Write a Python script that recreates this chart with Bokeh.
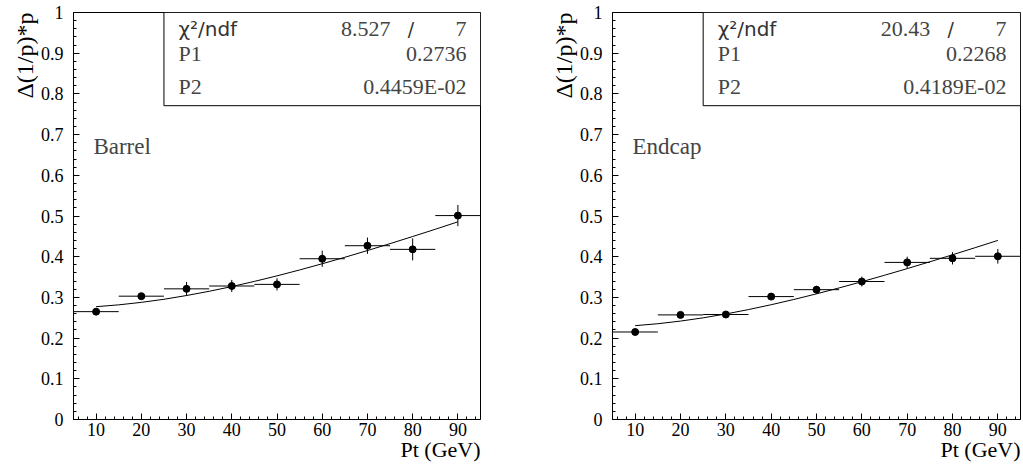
from bokeh.plotting import figure
from bokeh.layouts import row
from bokeh.models import (ColumnDataSource, FixedTicker, CustomJSTickFormatter,
                          Label, BoxAnnotation, Range1d, Title)
from bokeh.embed import file_html
from bokeh.resources import INLINE

# ---------------- data ----------------
pt = [10, 20, 30, 40, 50, 60, 70, 80, 90]
pt_half_bin = [5, 5, 5, 5, 5, 5, 5, 5, 5]

barrel_y = [0.265, 0.303, 0.321, 0.328, 0.332, 0.395, 0.427, 0.418, 0.501]
barrel_err = [0.007, 0.007, 0.017, 0.015, 0.015, 0.020, 0.020, 0.027, 0.026]

endcap_y = [0.215, 0.257, 0.258, 0.302, 0.319, 0.339, 0.386, 0.396, 0.401]
endcap_err = [0.006, 0.006, 0.006, 0.007, 0.009, 0.012, 0.014, 0.015, 0.018]

fit_x = [10, 15, 20, 25, 30, 35, 40, 45, 50, 55, 60, 65, 70, 75, 80, 85, 90]
barrel_fit = [0.2772, 0.2817, 0.2878, 0.2954, 0.3046, 0.3150, 0.3266, 0.3393,
              0.3529, 0.3674, 0.3827, 0.3986, 0.4151, 0.4321, 0.4496, 0.4674, 0.4857]
endcap_fit = [0.2306, 0.2353, 0.2418, 0.2498, 0.2593, 0.2701, 0.2820, 0.2949,
              0.3087, 0.3233, 0.3385, 0.3544, 0.3707, 0.3875, 0.4047, 0.4222, 0.4400]

barrel_stats = ["8.527", "7", "0.2736", "0.4459E-02"]
endcap_stats = ["20.43", "7", "0.2268", "0.4189E-02"]

x_title = "Pt (GeV)"
y_title = "Δ(1/p)*p"

x_major = [10, 20, 30, 40, 50, 60, 70, 80, 90]
x_minor = [v for v in range(6, 95, 2) if v % 10 != 0]
y_major = [i / 10 for i in range(11)]
y_minor = [i / 50 for i in range(51) if i % 5 != 0]

SERIF = "Liberation Serif"
SANS = "DejaVu Sans"


def make_panel(name, yv, ye, fit, stats, width, left_border, right_border):
    p = figure(width=width, height=464, output_backend="svg", toolbar_location=None,
               x_range=Range1d(5, 95), y_range=Range1d(0, 1),
               min_border_left=left_border, min_border_right=right_border,
               min_border_top=12, min_border_bottom=45)
    p.xgrid.visible = False
    p.ygrid.visible = False
    p.outline_line_color = "black"
    p.outline_line_width = 1
    p.background_fill_color = "white"
    p.border_fill_color = "white"

    for ax in (p.xaxis, p.yaxis):
        ax.axis_line_color = "black"
        ax.major_tick_line_color = "black"
        ax.minor_tick_line_color = "black"
        ax.major_tick_in = 6
        ax.major_tick_out = 0
        ax.minor_tick_in = 3
        ax.minor_tick_out = 0
        ax.major_label_text_font = SERIF
        ax.major_label_text_font_size = "18px"
        ax.major_label_text_color = "black"

    p.xaxis.ticker = FixedTicker(ticks=x_major, minor_ticks=x_minor)
    p.yaxis.ticker = FixedTicker(ticks=y_major, minor_ticks=y_minor)
    p.yaxis.formatter = CustomJSTickFormatter(code="return String(Math.round(tick*10)/10);")
    p.xaxis.major_label_standoff = 3
    p.yaxis.major_label_standoff = 10

    # axis titles, ROOT style: flush with the right / top end of the axis
    p.add_layout(Title(text=x_title, align="right", text_font=SERIF,
                       text_font_size="22px", text_font_style="normal",
                       text_color="black", standoff=-8, offset=0), "below")
    p.add_layout(Title(text=y_title, align="right", text_font=SERIF,
                       text_font_size="24px", text_font_style="normal",
                       text_color="black", standoff=0, offset=0), "left")

    src = ColumnDataSource(dict(
        x=pt, y=yv,
        x0=[a - b for a, b in zip(pt, pt_half_bin)],
        x1=[a + b for a, b in zip(pt, pt_half_bin)],
        y0=[a - b for a, b in zip(yv, ye)],
        y1=[a + b for a, b in zip(yv, ye)],
    ))
    p.segment(x0="x0", x1="x1", y0="y", y1="y", source=src, line_color="black", line_width=1)
    p.segment(x0="x", x1="x", y0="y0", y1="y1", source=src, line_color="black", line_width=1)
    p.line(fit_x, fit, line_color="black", line_width=1)
    p.scatter(x="x", y="y", source=src, size=7, marker="circle",
              fill_color="black", line_color="black")

    # stats box
    p.add_layout(BoxAnnotation(left=25, right=95, bottom=0.771, top=1.0,
                               fill_color="white", fill_alpha=1.0,
                               line_color="black", line_alpha=1.0, line_width=1))
    row_y = [0.960, 0.899, 0.818]
    p.add_layout(Label(x=28.2, y=row_y[0], text="χ²/ndf", text_font=SANS,
                       text_font_size="20px", text_color="#333",
                       text_baseline="alphabetic"))
    p.add_layout(Label(x=75.1, y=row_y[0], text=stats[0], text_font=SERIF,
                       text_font_size="22px", text_align="right",
                       text_baseline="alphabetic"))
    p.add_layout(Label(x=79.6, y=row_y[0], text="/", text_font=SANS,
                       text_font_size="19px", text_color="#333", text_align="center",
                       text_baseline="alphabetic"))
    p.add_layout(Label(x=91.9, y=row_y[0], text=stats[1], text_font=SERIF,
                       text_font_size="22px", text_align="right",
                       text_baseline="alphabetic"))
    p.add_layout(Label(x=28.2, y=row_y[1], text="P1", text_font=SERIF,
                       text_font_size="22px", text_baseline="alphabetic"))
    p.add_layout(Label(x=91.9, y=row_y[1], text=stats[2], text_font=SERIF,
                       text_font_size="22px", text_align="right",
                       text_baseline="alphabetic"))
    p.add_layout(Label(x=28.2, y=row_y[2], text="P2", text_font=SERIF,
                       text_font_size="22px", text_baseline="alphabetic"))
    p.add_layout(Label(x=91.9, y=row_y[2], text=stats[3], text_font=SERIF,
                       text_font_size="22px", text_align="right",
                       text_baseline="alphabetic"))

    # region name
    p.add_layout(Label(x=9.4, y=0.671, text=name, text_font=SERIF,
                       text_font_size="23px", text_baseline="alphabetic"))
    return p


p1 = make_panel("Barrel", barrel_y, barrel_err, barrel_fit, barrel_stats,
                width=500, left_border=73, right_border=20)
p2 = make_panel("Endcap", endcap_y, endcap_err, endcap_fit, endcap_stats,
                width=523, left_border=112, right_border=3)

layout = row(p1, p2)
open("out.html", "w").write(file_html(layout, INLINE))
